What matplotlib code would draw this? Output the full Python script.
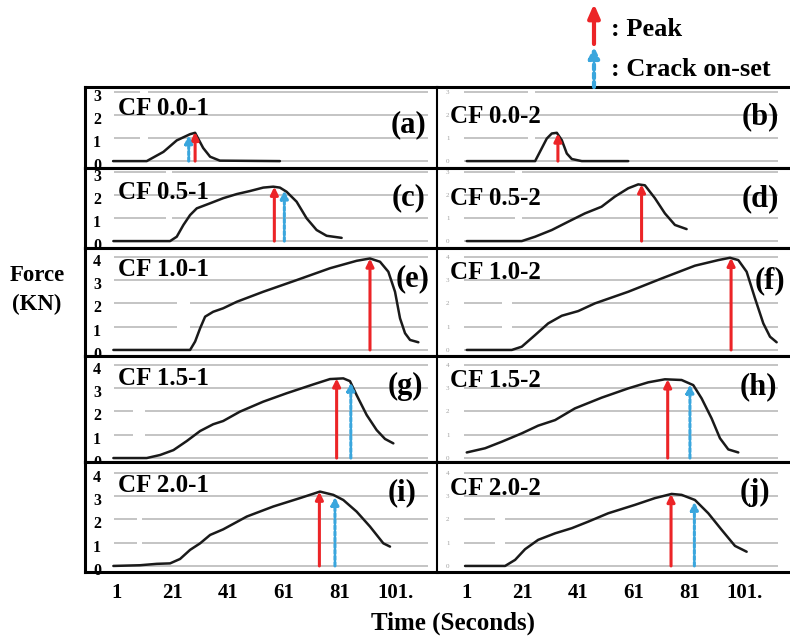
import matplotlib.pyplot as plt
from matplotlib.transforms import ScaledTranslation

plt.rcParams['font.family'] = ['Liberation Serif', 'DejaVu Serif']
plt.rcParams['font.weight'] = 'bold'

# ---- data (time in s, force in kN) ----
labels = ['CF 0.0-1', 'CF 0.0-2', 'CF 0.5-1', 'CF 0.5-2', 'CF 1.0-1',
          'CF 1.0-2', 'CF 1.5-1', 'CF 1.5-2', 'CF 2.0-1', 'CF 2.0-2']
letters = ['(a)', '(b)', '(c)', '(d)', '(e)', '(f)', '(g)', '(h)', '(i)', '(j)']

t_a = [-0.4, 11.7, 17.7, 22.5, 27.3, 29.1, 32.0, 34.5, 38.0, 59.6]
f_a = [0.0, 0.0, 0.40, 0.90, 1.17, 1.23, 0.57, 0.19, 0.02, 0.0]
t_b = [0.9, 25.5, 27.9, 29.7, 31.5, 33.3, 35.1, 36.9, 38.7, 42.3, 59.0]
f_b = [0.0, 0.0, 0.56, 0.98, 1.20, 1.23, 0.91, 0.33, 0.09, 0.0, 0.0]
t_c = [-0.3, 20.1, 22.5, 24.9, 27.3, 29.7, 34.5, 39.2, 44.1, 48.8, 53.6,
       57.2, 59.6, 62.0, 65.6, 69.2, 72.8, 76.4, 81.8]
f_c = [0.0, 0.0, 0.19, 0.70, 1.13, 1.42, 1.64, 1.86, 2.04, 2.17, 2.32,
       2.36, 2.32, 2.14, 1.71, 0.99, 0.48, 0.23, 0.14]
t_d = [0.9, 20.7, 25.5, 31.5, 37.4, 43.4, 49.4, 54.2, 59.0, 62.6, 65.0,
       68.6, 72.2, 75.8, 80.0]
f_d = [0.0, 0.0, 0.19, 0.48, 0.84, 1.20, 1.49, 1.93, 2.29, 2.46, 2.42,
       1.86, 1.20, 0.70, 0.52]
t_e = [-0.3, 27.3, 29.1, 30.9, 32.7, 35.6, 39.2, 44.1, 53.6, 65.6, 77.6,
       87.2, 92.0, 95.6, 98.6, 101.0, 102.8, 104.6, 106.4, 109.4]
f_e = [0.0, 0.0, 0.36, 0.93, 1.43, 1.64, 1.79, 2.07, 2.50, 3.00, 3.51,
       3.83, 3.93, 3.79, 3.36, 2.50, 1.36, 0.72, 0.43, 0.33]
t_f = [0.9, 17.1, 20.7, 25.5, 30.2, 35.1, 41.0, 47.0, 59.0, 71.0, 83.0,
       91.4, 95.6, 98.6, 101.6, 104.6, 107.6, 110.0, 112.4]
f_f = [0.0, 0.0, 0.14, 0.64, 1.14, 1.47, 1.67, 2.00, 2.50, 3.07, 3.62,
       3.86, 3.96, 3.86, 3.36, 2.22, 1.14, 0.57, 0.33]
t_g = [-0.3, 11.7, 16.5, 21.3, 26.1, 30.9, 35.6, 39.2, 45.2, 53.6, 62.0,
       71.6, 77.6, 82.4, 84.8, 87.2, 90.8, 94.4, 97.4, 100.4]
f_g = [0.0, 0.0, 0.13, 0.34, 0.73, 1.16, 1.45, 1.59, 1.99, 2.42, 2.78,
       3.16, 3.39, 3.42, 3.30, 2.70, 1.85, 1.20, 0.82, 0.63]
t_h = [0.9, 7.5, 13.5, 20.7, 26.6, 32.7, 39.8, 49.4, 59.0, 66.2, 72.2,
       78.2, 82.4, 85.4, 89.0, 92.0, 95.0, 98.6]
f_h = [0.24, 0.42, 0.70, 1.06, 1.39, 1.63, 2.13, 2.59, 2.99, 3.25, 3.38,
       3.35, 3.13, 2.56, 1.70, 0.85, 0.37, 0.24]
t_i = [-0.3, 9.3, 15.3, 20.1, 23.7, 27.3, 30.9, 34.5, 39.2, 47.7, 57.2,
       66.8, 74.0, 78.8, 82.4, 87.2, 92.0, 96.8, 99.2]
f_i = [0.0, 0.03, 0.09, 0.11, 0.30, 0.69, 0.97, 1.33, 1.57, 2.12, 2.55,
       2.91, 3.19, 3.05, 2.83, 2.33, 1.69, 0.97, 0.83]
t_j = [0.3, 14.7, 18.3, 21.9, 26.6, 32.7, 38.7, 44.6, 51.8, 61.4, 68.6,
       74.6, 78.2, 83.0, 87.8, 92.6, 97.4, 101.6]
f_j = [0.0, 0.0, 0.26, 0.72, 1.12, 1.40, 1.62, 1.90, 2.26, 2.62, 2.91,
       3.09, 3.05, 2.83, 2.26, 1.55, 0.86, 0.61]

times = [t_a, t_b, t_c, t_d, t_e, t_f, t_g, t_h, t_i, t_j]
forces = [f_a, f_b, f_c, f_d, f_e, f_f, f_g, f_h, f_i, f_j]

peak_t = [29.1, 33.7, 57.6, 63.8, 92.0, 96.0, 80.0, 73.2, 73.8, 74.4]
peak_f = [1.27, 1.20, 2.36, 2.46, 3.93, 3.96, 3.42, 3.38, 3.19, 3.09]
crack_t = [26.8, None, 61.2, None, None, None, 85.1, 81.2, 79.4, 82.8]
crack_f = [1.13, None, 2.20, None, None, None, 3.25, 3.16, 2.97, 2.76]

y_max = [3, 3, 4, 4, 4]
xticks = [1, 21, 41, 61, 81, 101]
xtick_labels = ['1', '21', '41', '61', '81', '101.']

# ---- layout (pixels of the 790x638 picture) ----
W, H = 790, 638
row_top = [87, 168, 248, 356, 462]
row_bot = [168, 248, 356, 462, 572]
row_ylim = [(-0.30, 3.22), (-0.30, 3.17), (-0.26, 4.38), (-0.17, 4.38), (-0.26, 4.46)]
col_x = [(85, 437), (437, 790)]
col_xlim = [(-10.5, 116.1), (-9.8, 117.2)]
# gaps in the gridlines: (t0, t1, levels)
gaps = [(9.3, 12.2, [1, 3]), (22.9, 25.5, [1, 3]), (18.6, 20.8, [1, 3]),
        (18.3, 20.8, [1, 3]), (22.6, 27.3, [1, 2]), (13.6, 17.2, [1, 2]),
        (6.8, 11.1, [1, 2]), None, (8.2, 10.0, [1, 2]), (11.0, 14.7, [1, 2])]
lab_pos = [(0.094, 0.73), (0.037, 0.63), (0.094, 0.69), (0.037, 0.62),
           (0.094, 0.80), (0.037, 0.77), (0.094, 0.79), (0.037, 0.77),
           (0.094, 0.79), (0.037, 0.76)]
let_pos = [(0.918, 0.53), (0.915, 0.63), (0.918, 0.625), (0.915, 0.62),
           (0.93, 0.72), (0.943, 0.70), (0.91, 0.71), (0.91, 0.71),
           (0.90, 0.72), (0.90, 0.72)]

red = '#ec2427'
blue = '#3aa6dd'

fig = plt.figure(figsize=(W / 100, H / 100), dpi=100)
shift_down = ScaledTranslation(0, -3 / 100, fig.dpi_scale_trans)

for k in range(10):
    r, c = k // 2, k % 2
    x0, x1 = col_x[c]
    ax = fig.add_axes([x0 / W, 1 - row_bot[r] / H, (x1 - x0) / W,
                       (row_bot[r] - row_top[r]) / H])
    ax.set_xlim(*col_xlim[c])
    ax.set_ylim(*row_ylim[r])

    # gridlines with the small gaps seen in the picture
    for lev in range(y_max[r] + 1):
        g = gaps[k]
        if g is not None and lev in g[2]:
            ax.hlines([lev, lev], [0, g[1]], [g[0], 113], color='#c4c4c4', lw=1.4, zorder=1)
        else:
            ax.hlines(lev, 0, 113, color='#c4c4c4', lw=1.4, zorder=1)

    ax.plot(times[k], forces[k], color='#1a1a1a', lw=1.8, zorder=3,
            solid_joinstyle='round', solid_capstyle='round')

    ax.annotate('', xy=(peak_t[k], peak_f[k]), xytext=(peak_t[k], 0),
                arrowprops=dict(arrowstyle='-|>,head_width=0.22,head_length=0.45',
                                color=red, lw=2.2, shrinkA=0, shrinkB=0), zorder=4)
    if crack_t[k] is not None:
        ax.annotate('', xy=(crack_t[k], crack_f[k]), xytext=(crack_t[k], 0),
                    arrowprops=dict(arrowstyle='-|>,head_width=0.22,head_length=0.45',
                                    color=blue, lw=2.2, linestyle=(0, (1.2, 0.8)),
                                    shrinkA=0, shrinkB=0), zorder=4)

    ax.text(*lab_pos[k], labels[k], transform=ax.transAxes, fontsize=18,
            ha='left', va='center', zorder=5)
    ax.text(*let_pos[k], letters[k], transform=ax.transAxes, fontsize=22,
            ha='center', va='center', zorder=5)

    ax.set_yticks(range(y_max[r] + 1))
    if c == 0:
        ax.tick_params(axis='y', length=0, pad=-11.5, labelsize=11.5)
        for lbl in ax.get_yticklabels():
            lbl.set_transform(lbl.get_transform() + shift_down)
    else:
        ax.set_yticklabels([str(v) for v in range(y_max[r] + 1)],
                           fontsize=5, color='#a0a0a0', fontweight='normal')
        ax.tick_params(axis='y', length=0, pad=-9)

    if r == 4:
        ax.set_xticks(xticks)
        ax.set_xticklabels(xtick_labels, fontsize=15)
        ax.tick_params(axis='x', length=0, pad=8)
    else:
        ax.set_xticks([])

    for side in ['top', 'bottom']:
        ax.spines[side].set_linewidth(2.2)
    if c == 0:
        ax.spines['left'].set_linewidth(2.2)
        ax.spines['right'].set_visible(False)
    else:
        ax.spines['left'].set_linewidth(1.5)
        ax.spines['right'].set_visible(False)

# legend drawn in picture pixels
leg = fig.add_axes([0, 0, 1, 1], facecolor='none')
leg.set_xlim(0, W)
leg.set_ylim(H, 0)
leg.axis('off')
leg.annotate('', xy=(594, 4), xytext=(594, 44),
             arrowprops=dict(arrowstyle='-|>,head_width=0.35,head_length=0.8',
                             color=red, lw=3, shrinkA=0, shrinkB=0))
leg.annotate('', xy=(594, 47), xytext=(594, 87),
             arrowprops=dict(arrowstyle='-|>,head_width=0.3,head_length=0.6',
                             color=blue, lw=3, linestyle=(0, (1.2, 0.9)),
                             shrinkA=0, shrinkB=0))
leg.text(611, 29, ': Peak', fontsize=19, ha='left', va='center')
leg.text(611, 70, ': Crack on-set', fontsize=19, ha='left', va='center')

fig.text(37 / W, 1 - 290 / H, 'Force\n(KN)', fontsize=16.5, ha='center',
         va='center', linespacing=1.45)
fig.text(453 / W, 1 - 623 / H, 'Time (Seconds)', fontsize=18, ha='center',
         va='center')

fig.savefig('out.png', dpi=100)
